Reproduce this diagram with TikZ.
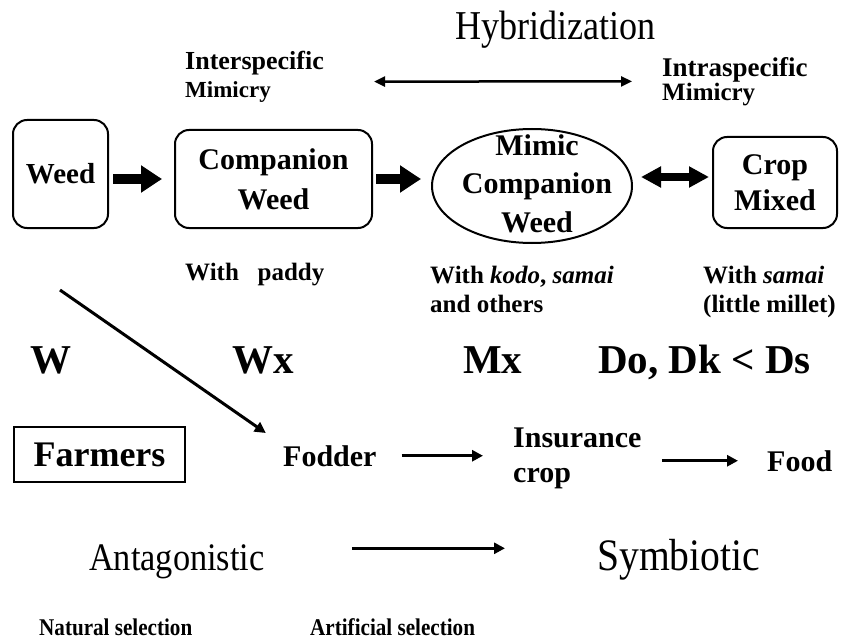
\documentclass[tikz,border=0pt]{standalone}
\usepackage{fontspec}
\setmainfont{Liberation Serif}
\newfontfamily\condf[FakeStretch=0.88]{Liberation Serif}
\usetikzlibrary{arrows.meta,shapes.geometric}
\newcommand{\myfs}[2]{\fontsize{#1}{#2}\selectfont}
\begin{document}
\begin{tikzpicture}[x=1pt,y=-1pt,
  lbl/.style={anchor=base west, inner sep=0pt, font=\bfseries\myfs{25}{29}},
  big/.style={anchor=base west, inner sep=0pt, font=\condf\myfs{41}{45}},
  sym/.style={anchor=base west, inner sep=0pt, font=\bfseries\myfs{41}{45}},
  rbox/.style={draw, line width=2pt, rounded corners=14pt, inner sep=0pt, align=center},
  blk/.style={line width=10pt, -{Triangle[length=21pt,width=26pt]}},
  dblk/.style={line width=8pt, {Triangle[length=20pt,width=20pt]}-{Triangle[length=20pt,width=20pt]}},
  thin/.style={line width=3pt, -{Triangle[length=11pt,width=11pt]}},
  dthin/.style={line width=2.5pt, {Triangle[length=11pt,width=10pt]}-{Triangle[length=11pt,width=10pt]}}]
\useasboundingbox (0,0) rectangle (843,639);

% top
\node[big] (hyb) at (455,40) {Hybridization};
\node[lbl, font=\bfseries\myfs{26}{29}] (inter1) at (185,70) {Interspecific};
\node[lbl, font=\bfseries\myfs{23}{26}] (inter2) at (185,98) {Mimicry};
\node[lbl, font=\bfseries\myfs{27}{29}] (intra1) at (662,77) {Intraspecific};
\node[lbl, font=\bfseries\myfs{25}{26}] (intra2) at (662,101) {Mimicry};
\draw[dthin, shorten <=50pt, shorten >=30pt] ([yshift=-18pt]inter1.east) -- ([yshift=-11pt]intra1.west);

% middle row
\node[rbox, minimum width=95pt, minimum height=108pt, font=\bfseries\myfs{29}{33}] (weed) at (60.5,174) {Weed};
\node[rbox, minimum width=197pt, minimum height=98pt, font=\bfseries\myfs{30}{40}] (comp) at (273.5,179) {Companion\\Weed};
\node[ellipse, draw, line width=2pt, minimum width=200pt, minimum height=114pt, inner sep=0pt] (mimic) at (532,186) {};
\node[inner sep=0pt, align=center, font=\bfseries\myfs{30}{38.5}] (mimict) at (537,183.5) {Mimic\\Companion\\Weed};
\node[rbox, minimum width=124pt, minimum height=91pt, font=\bfseries\myfs{30}{36}] (crop) at (775,182.5) {Crop\\Mixed};

\draw[blk, shorten <=4pt, shorten >=12pt] (weed.east |- comp.west) -- (comp.west);
\draw[blk, shorten <=3pt, shorten >=10pt] (comp.east) -- (comp.east -| mimic.west);
\draw[dblk, shorten <=8pt, shorten >=3pt] (mimic.east |- 0,177) -- (crop.west |- 0,177);

% labels under
\node[lbl] (paddy) at (185,280) {With\ \ \ paddy};
\node[lbl] (kodo1) at (430,283) {With \textit{kodo}, \textit{samai}};
\node[lbl] (kodo2) at (430,312) {and others};
\node[lbl] (samai1) at (703,283) {With \textit{samai}};
\node[lbl] (samai2) at (703,312) {(little millet)};

% symbol row
\node[sym] (w) at (30,373) {W};
\node[sym] (wx) at (232,373) {Wx};
\node[sym] (mx) at (463,373) {Mx};
\node[sym] (dd) at (598,373) {Do, Dk < Ds};

% farmers row
\node[draw, line width=2pt, minimum width=171pt, minimum height=55pt, inner sep=0pt, font=\bfseries\myfs{36}{40}] (farm) at (99.5,454.5) {Farmers};
\node[lbl, font=\bfseries\myfs{30}{34}] (fodder) at (283,466) {Fodder};
\node[lbl, font=\bfseries\myfs{30}{34}] (ins) at (513,447) {Insurance};
\node[lbl, font=\bfseries\myfs{30}{34}] (cropw) at (513,482) {crop};
\node[lbl, font=\bfseries\myfs{30}{34}] (food) at (767,471) {Food};
\coordinate (dstart) at (60,290);
\draw[thin, shorten >=21pt] (dstart) -- (fodder.north west);
\draw[thin, shorten <=25pt, shorten >=30pt] (fodder.east) -- (fodder.east -| ins.west);
\draw[thin, shorten <=20pt, shorten >=29pt] (food.west -| ins.east) -- (food.west);

% bottom
\node[big, font=\condf\myfs{39}{43}] (ant) at (89,570) {Antagonistic};
\node[big, font=\condf\myfs{45}{49}] (symb) at (597,570) {Symbiotic};
\draw[thin, shorten <=87pt, shorten >=92pt] ([yshift=13pt]ant.east) -- ([yshift=13pt]ant.east -| symb.west);
\node[lbl, font=\condf\bfseries\myfs{24}{28}] (nat) at (39,635) {Natural selection};
\node[lbl, font=\condf\bfseries\myfs{24}{28}] (art) at (310,635) {Artificial selection};
\end{tikzpicture}
\end{document}
